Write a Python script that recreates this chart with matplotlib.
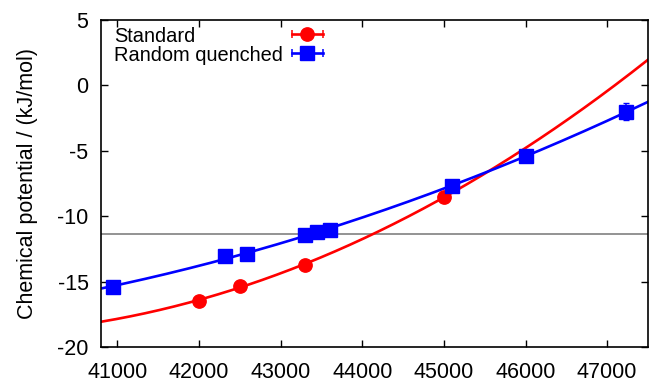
import numpy as np
import matplotlib
matplotlib.use("Agg")
import matplotlib.pyplot as plt

# ---------------------------------------------------------------------------
# Dane
# ---------------------------------------------------------------------------
std_x = [42000, 42500, 43300, 45000]
std_y = [-16.45, -15.35, -13.7, -8.55]
std_err = [0.1, 0.1, 0.1, 0.1]

rq_x = [40950, 42320, 42590, 43300, 43450, 43600, 45100, 46000, 47230]
rq_y = [-15.4, -13.05, -12.92, -11.4, -11.2, -11.05, -7.7, -5.42, -2.02]
rq_err = [0.1, 0.1, 0.1, 0.1, 0.1, 0.1, 0.1, 0.15, 0.65]

ref_level = -11.38

xlim = (40800, 47500)
ylim = (-20, 5)

plt.rcParams["font.family"] = ["Liberation Sans", "DejaVu Sans"]
plt.rcParams["font.size"] = 15.5
plt.rcParams["axes.unicode_minus"] = False

FS = 15.5
FS_LEG = 14.4
MS = 9.6     # ~13 px
LW = 1.9

fig = plt.figure(figsize=(6.58, 3.85), dpi=100)
ax = fig.add_axes([0.1535, 0.0987, 0.8313, 0.8493])

# dopasowania (kwadratowe)
xs = np.linspace(xlim[0], xlim[1], 300)
p_std = np.polyfit(std_x, std_y, 2)
p_rq = np.polyfit(rq_x, rq_y, 2)

ax.axhline(ref_level, color="#808080", lw=1.2, zorder=1)
ax.plot(xs, np.polyval(p_std, xs), color="#ff0000", lw=LW, zorder=2)
ax.plot(xs, np.polyval(p_rq, xs), color="#0000ff", lw=LW, zorder=2)

ax.errorbar(std_x, std_y, yerr=std_err, fmt="o", color="#ff0000", ms=MS,
            elinewidth=1.1, capsize=2.5, zorder=3)
ax.errorbar(rq_x, rq_y, yerr=rq_err, fmt="s", color="#0000ff", ms=MS,
            elinewidth=1.1, capsize=2.5, zorder=3)

ax.set_xlim(*xlim)
ax.set_ylim(*ylim)
ax.set_xticks(range(41000, 47001, 1000))
ax.set_yticks(range(-20, 6, 5))
ax.tick_params(direction="in", length=5, width=1, top=True, right=True,
               labelsize=FS)
ax.tick_params(axis="x", pad=11)
ax.tick_params(axis="y", pad=9)
for s in ax.spines.values():
    s.set_linewidth(1.2)
ax.set_ylabel("Chemical potential / (kJ/mol)", fontsize=FS, labelpad=13.5)

# legenda (w stylu gnuplota)
leg = [("Standard", "#ff0000", "o", 0.9336, 0.956),
       ("Random quenched", "#0000ff", "s", 0.8755, 0.898)]
for label, col, mk, y_txt, yy in leg:
    ax.text(0.024, y_txt, label, transform=ax.transAxes, fontsize=FS_LEG,
            va="baseline", ha="left")
    ax.plot([0.35, 0.406], [yy, yy], color=col, lw=LW, transform=ax.transAxes,
            clip_on=False)
    ax.plot([0.35, 0.406], [yy, yy], ls="none", marker="|", ms=6, mew=1.1,
            color=col, transform=ax.transAxes, clip_on=False)
    ax.plot([0.377], [yy], marker=mk, ms=MS, color=col,
            transform=ax.transAxes, clip_on=False)

fig.savefig("out.png", dpi=100)
